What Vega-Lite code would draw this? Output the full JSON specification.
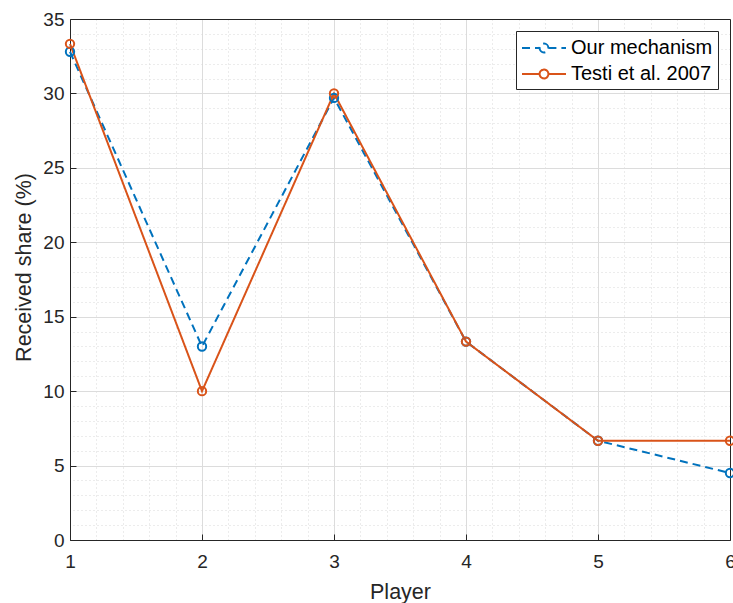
{
  "$schema": "https://vega.github.io/schema/vega-lite/v6.json",
  "width": 660,
  "height": 521,
  "autosize": {"type": "none"},
  "padding": {"left": 70, "top": 19, "right": 3, "bottom": 63},
  "background": "white",
  "config": {
    "view": {"stroke": null},
    "font": "Liberation Sans",
    "axis": {
      "labelFont": "Liberation Sans",
      "titleFont": "Liberation Sans",
      "labelColor": "#262626",
      "titleColor": "#262626",
      "labelFontSize": 19,
      "titleFontSize": 21.5,
      "titleFontWeight": "normal",
      "domainColor": "#262626",
      "tickColor": "#262626",
      "domainWidth": 1,
      "labelFlush": false
    }
  },
  "data": {
    "values": [
      {"player": 1, "share": 32.8, "series": "Our mechanism"},
      {"player": 2, "share": 13.0, "series": "Our mechanism"},
      {"player": 3, "share": 29.7, "series": "Our mechanism"},
      {"player": 4, "share": 13.33, "series": "Our mechanism"},
      {"player": 5, "share": 6.67, "series": "Our mechanism"},
      {"player": 6, "share": 4.5, "series": "Our mechanism"},
      {"player": 1, "share": 33.33, "series": "Testi et al. 2007"},
      {"player": 2, "share": 10.0, "series": "Testi et al. 2007"},
      {"player": 3, "share": 30.0, "series": "Testi et al. 2007"},
      {"player": 4, "share": 13.33, "series": "Testi et al. 2007"},
      {"player": 5, "share": 6.67, "series": "Testi et al. 2007"},
      {"player": 6, "share": 6.67, "series": "Testi et al. 2007"}
    ]
  },
  "layer": [
    {
      "mark": {"type": "line", "strokeWidth": 2},
      "encoding": {
        "x": {
          "field": "player", "type": "quantitative",
          "scale": {"domain": [1, 6], "nice": false, "zero": false},
          "axis": {
            "orient": "bottom", "title": "Player", "values": [1, 2, 3, 4, 5, 6],
            "grid": true, "gridColor": "#dcdcdc", "gridWidth": 1,
            "tickSize": -6, "labelPadding": 18, "titlePadding": 10
          }
        },
        "y": {
          "field": "share", "type": "quantitative",
          "scale": {"domain": [0, 35], "nice": false},
          "axis": {
            "orient": "left", "title": "Received share (%)",
            "values": [0, 5, 10, 15, 20, 25, 30, 35],
            "grid": true, "gridColor": "#dcdcdc", "gridWidth": 1,
            "tickSize": -6, "labelPadding": 12, "titlePadding": 7, "titleY": 248
          }
        },
        "color": {
          "field": "series", "type": "nominal",
          "scale": {"domain": ["Our mechanism", "Testi et al. 2007"], "range": ["#0072BD", "#D95319"]},
          "legend": {
            "title": null, "orient": "top-right", "offset": 12,
            "strokeColor": "#262626", "fillColor": "white", "padding": 5,
            "labelFont": "Liberation Sans", "labelFontSize": 20, "labelColor": "#000000",
            "symbolType": "M-1,0H0.6M1.4,0H3M0.6,0A0.4,0.4 0 1,0 1.4,0A0.4,0.4 0 1,0 0.6,0",
            "symbolSize": 484, "symbolStrokeWidth": 2, "symbolFillColor": "transparent",
            "rowPadding": 4, "labelOffset": 26
          }
        },
        "strokeDash": {
          "field": "series", "type": "nominal",
          "scale": {"domain": ["Our mechanism", "Testi et al. 2007"], "range": [[8, 5], [1, 0]]},
          "legend": {
            "title": null, "orient": "top-right", "offset": 12,
            "strokeColor": "#262626", "fillColor": "white", "padding": 5,
            "labelFont": "Liberation Sans", "labelFontSize": 20, "labelColor": "#000000",
            "symbolType": "M-1,0H0.6M1.4,0H3M0.6,0A0.4,0.4 0 1,0 1.4,0A0.4,0.4 0 1,0 0.6,0",
            "symbolSize": 484, "symbolStrokeWidth": 2, "symbolFillColor": "transparent",
            "rowPadding": 4, "labelOffset": 26
          }
        }
      }
    },
    {
      "mark": {"type": "point", "shape": "circle", "filled": false, "size": 70, "strokeWidth": 2, "opacity": 1},
      "encoding": {
        "x": {
          "field": "player", "type": "quantitative",
          "axis": {
            "orient": "top", "title": null, "labels": false, "ticks": false,
            "values": [1.2, 1.4, 1.6, 1.8, 2.2, 2.4, 2.6, 2.8, 3.2, 3.4, 3.6, 3.8, 4.2, 4.4, 4.6, 4.8, 5.2, 5.4, 5.6, 5.8],
            "grid": true, "gridColor": "#d8d8d8", "gridDash": [1, 3], "gridWidth": 1
          }
        },
        "y": {
          "field": "share", "type": "quantitative",
          "axis": {
            "orient": "right", "title": null, "labels": false, "ticks": false,
            "values": [1, 2, 3, 4, 6, 7, 8, 9, 11, 12, 13, 14, 16, 17, 18, 19, 21, 22, 23, 24, 26, 27, 28, 29, 31, 32, 33, 34],
            "grid": true, "gridColor": "#d8d8d8", "gridDash": [1, 3], "gridWidth": 1
          }
        },
        "color": {"field": "series", "type": "nominal"}
      }
    }
  ],
  "resolve": {"axis": {"x": "independent", "y": "independent"}}
}
